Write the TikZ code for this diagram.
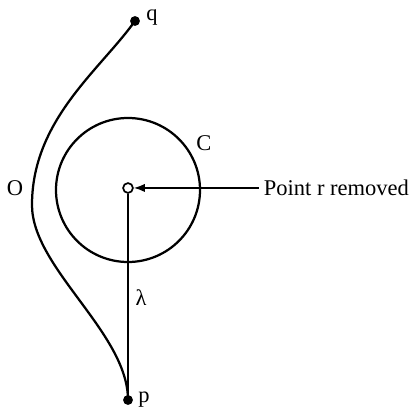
\documentclass[tikz,border=0pt]{standalone}
\usepackage{fontspec}
\setmainfont{Liberation Serif}
\usepackage{tikz}
\usetikzlibrary{arrows.meta,positioning}

\tikzset{
  dot/.style={circle, fill=black, inner sep=0pt, minimum size=7pt},
  hole/.style={circle, draw=black, fill=white, line width=1.2pt, inner sep=0pt, minimum size=7pt},
  lbl/.style={font=\fontsize{16}{19}\selectfont},
  path/.style={line width=1.6pt},
}

\begin{document}
\begin{tikzpicture}[scale=0.025, yscale=-1]
            \useasboundingbox (0,0) rectangle (411,408);
            \draw[path] (128,190) circle (72);
            \node[hole] (r) at (128,188) {};
            \node[dot] (q) at (135,21) {};
            \node[dot] (p) at (128,400) {};
            \coordinate (left) at (32,205);
            % curve O from q round the left side to p
            \draw[path] (q.center) .. controls (100,70) and (32,120) .. (left)
                                   .. controls (32,268) and (128,333) .. (p.center);
            \draw[line width=1.2pt] (r) -- (p);
            \node[lbl, anchor=west] (rm) at (259,188) {Point r removed};
            \draw[line width=1.2pt, -{Latex[length=8pt,width=6pt]}] (rm.west) -- (r);
            \node[lbl] (qlab) at (152,17) {q};
            \node[lbl] (plab) at (144,400) {p};
            \node[lbl] (clab) at (204,143) {C};
            \node[lbl] (olab) at (15,188) {O};
            \node[lbl] (lam) at (141,298) {λ};
        \end{tikzpicture}
\end{document}
